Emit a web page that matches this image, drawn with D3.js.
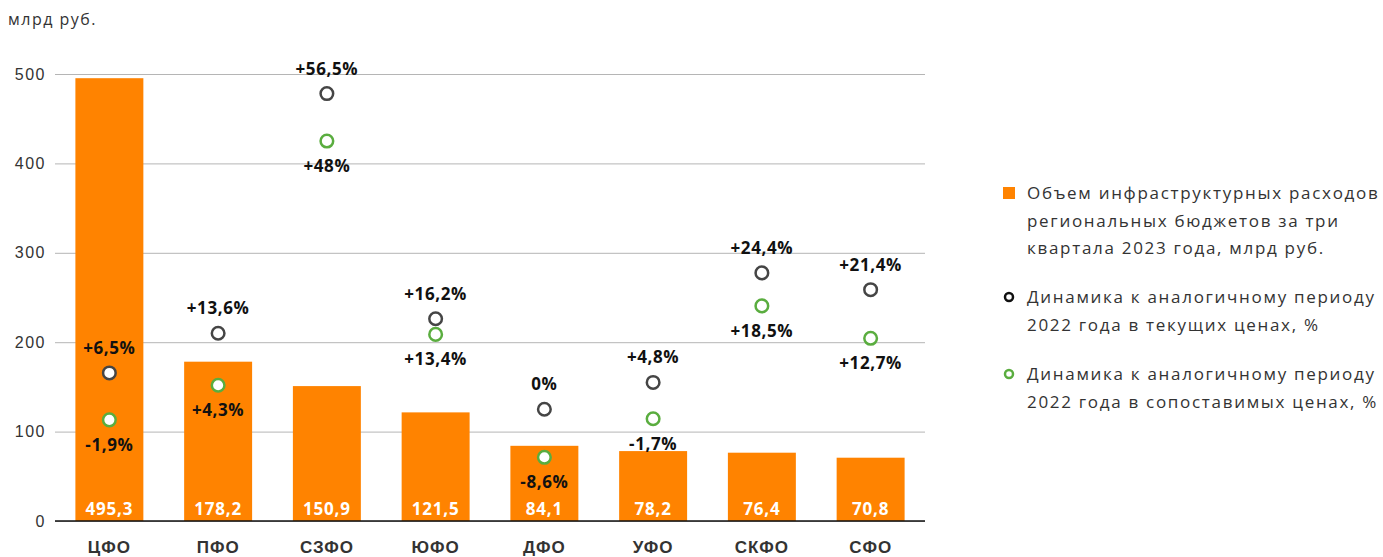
<!DOCTYPE html>
<html>
<head>
<meta charset="utf-8">
<script src="https://cdn.jsdelivr.net/npm/d3@7"></script>
<style>
  body { margin: 0; background: #fff; }
  svg { font-family: "Open Sans", sans-serif; }
  .tick text { fill: #333; font-size: 16px; letter-spacing: 1.5px; }
</style>
</head>
<body>
<div id="chart"></div>
<script>
var regions = ["ЦФО", "ПФО", "СЗФО", "ЮФО", "ДФО", "УФО", "СКФО", "СФО"];
var volume = [495.3, 178.2, 150.9, 121.5, 84.1, 78.2, 76.4, 70.8];
var dynCurrent = [6.5, 13.6, 56.5, 16.2, 0, 4.8, 24.4, 21.4];
var dynReal = [-1.9, 4.3, 48, 13.4, -8.6, -1.7, 18.5, 12.7];
var yTicks = [0, 100, 200, 300, 400, 500];
var legendItems = [
    ["Объем инфраструктурных расходов", "региональных бюджетов за три", "квартала 2023 года, млрд руб."],
    ["Динамика к аналогичному периоду", "2022 года в текущих ценах, %"],
    ["Динамика к аналогичному периоду", "2022 года в сопоставимых ценах, %"]
];

var orange = "#ff8300", dark = "#454545", green = "#5aad3f";

var svg = d3.select("#chart").append("svg")
    .attr("width", 1383)
    .attr("height", 557),
    margin = { top: 74, right: 458, bottom: 36, left: 55 };

var width = 1383 - margin.left - margin.right,
    height = 557 - margin.top - margin.bottom,
    g = svg.append("g").attr("transform", "translate(" + margin.left + "," + margin.top + ")");

var x = d3.scaleBand().domain(regions).range([0, width]).paddingInner(0.375).paddingOuter(0.1875);
var y = d3.scaleLinear().domain([0, 500]).range([height, 0]);
var yp = d3.scaleLinear().domain([-20, 60]).range([height, 0]);

function fmt(v) { return String(v).replace(".", ","); }
function pct(v) { return (v > 0 ? "+" : "") + fmt(v) + "%"; }

svg.append("text")
    .attr("x", 8).attr("y", 25)
    .attr("fill", "#333")
    .style("font-size", "16px")
    .style("letter-spacing", "1.5px")
    .text("млрд руб.");

// grid + y axis
var yAxis = g.append("g")
    .call(d3.axisLeft(y).tickValues(yTicks).tickSize(-width).tickPadding(10));
yAxis.select(".domain").remove();
yAxis.selectAll(".tick line").attr("stroke", "#b5b5b5");
yAxis.selectAll(".tick text").attr("x", -9);

g.selectAll(".bar")
    .data(volume)
    .enter().append("rect")
    .attr("class", "bar")
    .attr("x", function(d, i) { return x(regions[i]); })
    .attr("y", function(d) { return y(d); })
    .attr("width", x.bandwidth())
    .attr("height", function(d) { return height - y(d); })
    .attr("fill", orange);

g.append("line")
    .attr("x1", 0).attr("x2", width)
    .attr("y1", height).attr("y2", height)
    .attr("stroke", "#111").attr("stroke-width", 1.5);

g.selectAll(".val")
    .data(volume)
    .enter().append("text")
    .attr("x", function(d, i) { return x(regions[i]) + x.bandwidth() / 2; })
    .attr("y", height - 6)
    .attr("text-anchor", "middle")
    .attr("fill", "#fff")
    .style("font-size", "17px")
    .style("font-weight", "bold")
    .style("letter-spacing", "0.8px")
    .text(function(d) { return fmt(d); });

var xAxis = g.append("g")
    .attr("transform", "translate(0," + height + ")")
    .call(d3.axisBottom(x).tickSize(0).tickPadding(20));
xAxis.select(".domain").remove();
xAxis.selectAll(".tick text")
    .attr("fill", "#111")
    .style("font-size", "17px")
    .style("font-weight", "bold")
    .style("letter-spacing", "1px");

function cx(i) { return x(regions[i]) + x.bandwidth() / 2; }

[[dynCurrent, dark, -1], [dynReal, green, 1]].forEach(function(s) {
    g.selectAll(null)
        .data(s[0])
        .enter().append("circle")
        .attr("cx", function(d, i) { return cx(i); })
        .attr("cy", function(d) { return yp(d); })
        .attr("r", 6.3)
        .attr("fill", "#fff")
        .attr("stroke", s[1])
        .attr("stroke-width", 2.5);
    g.selectAll(null)
        .data(s[0])
        .enter().append("text")
        .attr("x", function(d, i) { return cx(i); })
        .attr("y", function(d) { return yp(d) + s[2] * 25 + 6; })
        .attr("text-anchor", "middle")
        .attr("fill", "#111")
        .style("font-size", "17px")
        .style("font-weight", "bold")
        .style("letter-spacing", "0.6px")
        .text(function(d) { return pct(d); });
});

// legend
var legendTop = [193, 297, 374];
var lg = svg.append("g").attr("transform", "translate(1003,0)");
legendItems.forEach(function(lines, k) {
    var gy = legendTop[k];
    if (k === 0) {
        lg.append("rect").attr("x", 0).attr("y", gy - 6).attr("width", 12).attr("height", 12).attr("fill", orange);
    } else {
        lg.append("circle").attr("cx", 6).attr("cy", gy).attr("r", 4)
            .attr("fill", "#fff").attr("stroke", k === 1 ? "#111" : green).attr("stroke-width", 2.5);
    }
    lines.forEach(function(t, j) {
        lg.append("text")
            .attr("x", 24)
            .attr("y", gy + 6 + j * 27.5)
            .attr("fill", "#333")
            .style("font-size", "17px")
            .style("letter-spacing", "1.7px")
            .text(t);
    });
});
</script>
</body>
</html>
